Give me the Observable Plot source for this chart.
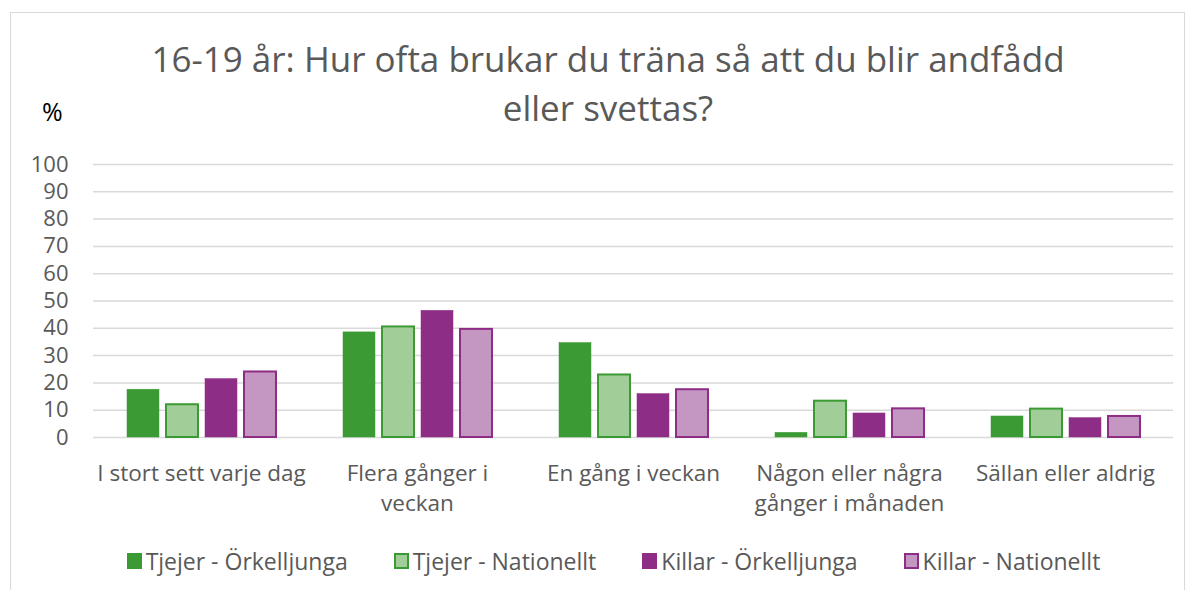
<!DOCTYPE html>
<html>
<head>
<meta charset="utf-8">
<script src="https://cdn.jsdelivr.net/npm/d3@7"></script>
<script src="https://cdn.jsdelivr.net/npm/@observablehq/plot@0.6"></script>
<style>
  body { margin: 0; background: #fff; font-family: "Open Sans", sans-serif; }
  #frame { position: absolute; left: 10px; top: 12px; width: 1175px; height: 620px; border: 1.5px solid #d9d9d9; box-sizing: border-box; }
  #title { position: absolute; left: 0; top: 34px; width: 1216px; text-align: center; font-size: 35px; line-height: 49px; color: #595959; }
  #pct { position: absolute; left: 42px; top: 94px; font-size: 25px; color: #000; }
  #chart { position: absolute; left: 0; top: 150px; }
  #legend { position: absolute; top: 545px; left: 0; width: 1195px; display: flex; justify-content: center; padding-left: 32px; box-sizing: border-box; font-size: 23px; color: #595959; }
  .item { display: flex; align-items: center; margin: 0 23px; }
  .sw { width: 15px; height: 16px; box-sizing: border-box; margin-right: 4px; }
</style>
</head>
<body>
<div id="frame"></div>
<div id="title">16-19 år: Hur ofta brukar du träna så att du blir andfådd<br>eller svettas?</div>
<div id="pct">%</div>
<div id="chart"></div>
<div id="legend"></div>
<script>
const categories = ["I stort sett varje dag", "Flera gånger i\nveckan", "En gång i veckan", "Någon eller några\ngånger i månaden", "Sällan eller aldrig"];
const seriesNames = ["Tjejer - Örkelljunga", "Tjejer - Nationellt", "Killar - Örkelljunga", "Killar - Nationellt"];
const tjejerOrkelljunga = [17.5, 38.5, 34.6, 1.7, 7.7];
const tjejerNationellt = [12.0, 40.5, 22.9, 13.3, 10.4];
const killarOrkelljunga = [21.4, 46.4, 15.9, 8.8, 7.1];
const killarNationellt = [24.0, 39.6, 17.5, 10.5, 7.7];
const yTicks = [0, 10, 20, 30, 40, 50, 60, 70, 80, 90, 100];

const fills = ["#3c9a34", "#a1cd98", "#8e2d86", "#c497c3"];
const strokes = ["#3c9a34", "#3c9a34", "#8e2d86", "#8e2d86"];

const seriesValues = [tjejerOrkelljunga, tjejerNationellt, killarOrkelljunga, killarNationellt];
const data = [];
categories.forEach((c, i) => seriesNames.forEach((s, j) => data.push({category: c, series: s, value: seriesValues[j][i]})));

const chart = Plot.plot({
  width: 1195,
  height: 380,
  marginTop: 14,
  marginBottom: 93,
  marginLeft: 91,
  marginRight: 20,
  style: {fontFamily: "'Open Sans', sans-serif", background: "transparent", overflow: "visible"},
  fx: {domain: categories, paddingInner: 0, paddingOuter: 0, label: null, axis: null},
  x: {domain: seriesNames, paddingInner: 0.18, paddingOuter: 0.83, axis: null},
  y: {domain: [0, 100], label: null},
  color: {domain: seriesNames, range: fills},
  marks: [
    Plot.ruleY(yTicks, {stroke: "#d9d9d9", strokeWidth: 1.5}),
    Plot.barY(data, {fx: "category", x: "series", y: "value", fill: "series",
      stroke: d => strokes[seriesNames.indexOf(d.series)], strokeWidth: d => d.series.includes("Nationellt") ? 2 : 0.5}),
    Plot.axisY(yTicks, {tickSize: 0, tickPadding: 25, fontSize: 22, fill: "#595959", label: null}),
    Plot.axisFx({anchor: "bottom", tickSize: 0, tickPadding: 22, fontSize: 22.5, fill: "#595959", lineHeight: 1.33, label: null})
  ]
});
document.getElementById("chart").appendChild(chart);

const legend = document.getElementById("legend");
seriesNames.forEach((s, j) => {
  const it = document.createElement("div");
  it.className = "item";
  const sw = document.createElement("div");
  sw.className = "sw";
  sw.style.background = fills[j];
  sw.style.border = `2px solid ${strokes[j]}`;
  const t = document.createElement("span");
  t.textContent = s;
  it.appendChild(sw); it.appendChild(t);
  legend.appendChild(it);
});
</script>
</body>
</html>
